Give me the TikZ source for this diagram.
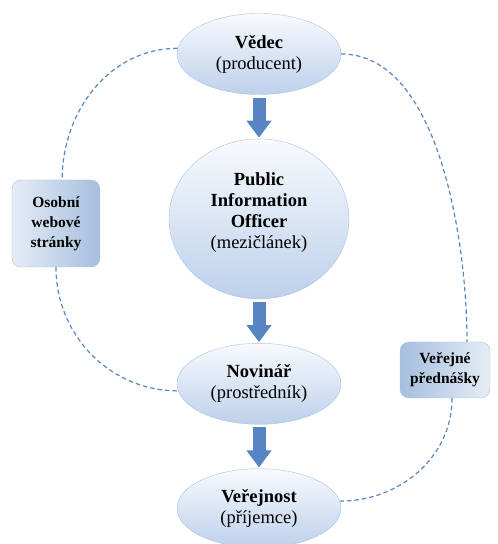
\documentclass[tikz,border=0pt]{standalone}
\usepackage{fontspec}
\setmainfont{Liberation Serif}
\usetikzlibrary{arrows.meta,positioning,shapes.geometric}

\definecolor{edgeblue}{HTML}{A9C2E3}
\definecolor{fillblue}{HTML}{BDD0EB}
\definecolor{boxblue}{HTML}{A6BEDE}
\definecolor{boxlight}{HTML}{E6EDF6}
\definecolor{dashblue}{HTML}{5A86C4}
\definecolor{arrowblue}{HTML}{5785C3}

\begin{document}
\begin{tikzpicture}[x=1pt, y=1pt,
  bubble/.style={ellipse, draw=edgeblue, top color=white!90!fillblue, bottom color=fillblue, minimum width=164pt, minimum height=81pt, inner sep=0pt, align=center, font=\fontsize{18.5}{21}\selectfont},
  sidebox/.style={draw=edgeblue, rounded corners=9pt, inner sep=0pt, align=center, font=\fontsize{15.5}{20}\selectfont\bfseries},
  flow/.style={-{Triangle[width=24pt,length=17pt]}, line width=13pt, draw=arrowblue, shorten <=3pt, shorten >=1pt},
  link/.style={draw=dashblue, line width=1.2pt, dash pattern=on 4.5pt off 3pt},
  node distance=44pt
]
  \useasboundingbox (0,0) rectangle (498,544);

  % main chain
  \node[bubble] (vedec) at (259,490) {\textbf{Vědec}\\(producent)};
  \node[bubble, minimum width=180pt, minimum height=160pt, below=of vedec] (pio) {\textbf{Public}\\\textbf{Information}\\\textbf{Officer}\\(mezičlánek)\\[-5pt]\mbox{}};
  \node[bubble, below=of pio] (novinar) {\textbf{Novinář}\\(prostředník)};
  \node[bubble, minimum height=79pt, below=of novinar] (verejnost) {\textbf{Veřejnost}\\(příjemce)};

  % side channels
  \node[sidebox, left color=boxlight, right color=boxblue, minimum width=88pt, minimum height=87pt] (osobni) at (56,320.5) {Osobní\\webové\\stránky};
  \node[sidebox, left color=boxblue, right color=boxlight, minimum width=90pt, minimum height=56pt] (verejne) at (445,174) {Veřejné\\přednášky};

  \draw[flow] (vedec) -- (pio);
  \draw[flow] (pio) -- (novinar);
  \draw[flow] (novinar) -- (verejnost);

  \draw[link] (vedec.176) to[out=180, in=90] (osobni.82);
  \draw[link] (osobni.south) to[out=-90, in=180] (novinar.185);
  \draw[link] (vedec.east) to[out=0, in=90, looseness=0.8] (verejne.52);
  \draw[link] (verejne.-76) to[out=-90, in=0] (verejnost.5);
\end{tikzpicture}
\end{document}
